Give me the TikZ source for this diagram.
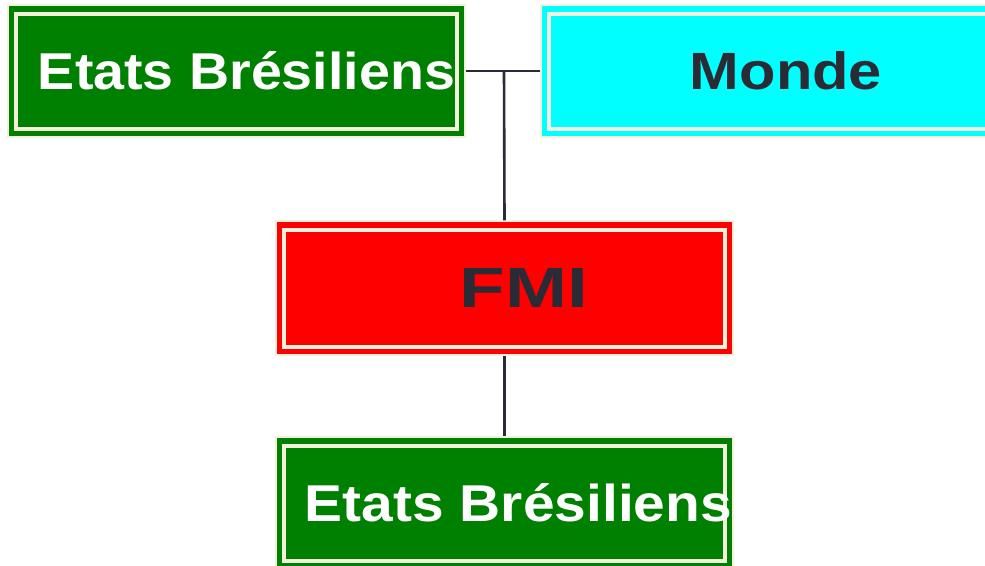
\documentclass[tikz,border=0pt]{standalone}
\usepackage{fontspec}
\setmainfont{Liberation Sans}
\usepackage{graphicx}
\definecolor{cream}{HTML}{F3F0DC}
\definecolor{boxgreen}{HTML}{008000}
\definecolor{boxcyan}{HTML}{00FFFF}
\definecolor{boxred}{HTML}{FF0000}
\definecolor{ink}{HTML}{2B2B35}
\tikzset{
  panel/.style={draw=cream, line width=1.5pt, inner sep=0pt, minimum width=457pt,
    path picture={\draw[cream, line width=3.5pt]
      ([shift={(8pt,-9pt)}]path picture bounding box.north west) rectangle
      ([shift={(-8pt,8pt)}]path picture bounding box.south east);}},
  link/.style={draw=ink, line width=2.6pt}
}
\newcommand{\lbl}[4]{\hspace*{#1pt}\resizebox{#2pt}{#3pt}{\bfseries #4}}
\begin{document}
\begin{tikzpicture}[x=1pt,y=-1pt]
\useasboundingbox (0,0) rectangle (985,565);
\fill[white] (0,0) rectangle (985,565);
\begin{scope}
\clip (0,0) rectangle (985,565);
\node[panel, fill=boxgreen, minimum height=132pt, text=white] (b1) at (236.5,71)
  {\lbl{20}{417}{38}{Etats Brésiliens}};
\node[panel, fill=boxcyan, minimum height=132pt, text=ink] (monde) at (769.5,71)
  {\lbl{33}{192}{38}{Monde}};
\node[panel, fill=boxred, minimum height=134pt, text=ink] (fmi) at (504.5,288)
  {\lbl{39}{128}{39}{FMI}};
\node[panel, fill=boxgreen, minimum height=132pt, text=white] (b2) at (504.5,503)
  {\lbl{28}{427}{38}{Etats Brésiliens}};
\end{scope}
\coordinate (j) at (504,71);
\draw[link] (b1.east) -- (monde.west);
\draw[link] (j) -- (fmi.north);
\draw[link] (fmi.south) -- (b2.north);
\end{tikzpicture}
\end{document}
